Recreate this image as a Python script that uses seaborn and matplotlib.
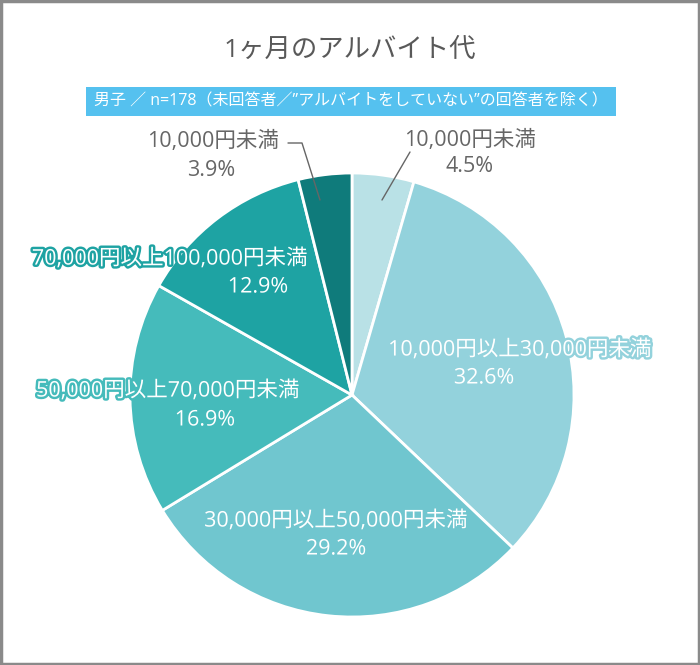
import matplotlib
matplotlib.use("Agg")
import matplotlib.pyplot as plt
import matplotlib.patheffects as pe
from matplotlib.patches import Rectangle
import seaborn as sns

sns.set_theme(style="white")
plt.rcParams['font.family'] = ['Open Sans', 'Noto Sans CJK JP', 'DejaVu Sans']

title = "1ヶ月のアルバイト代"
subtitle = "男子 ／ n=178（未回答者／”アルバイトをしていない”の回答者を除く）"
categories = ["10,000円未満", "10,000円以上30,000円未満", "30,000円以上50,000円未満",
              "50,000円以上70,000円未満", "70,000円以上100,000円未満", "10,000円未満"]
values = [4.5, 32.6, 29.2, 16.9, 12.9, 3.9]
colors = ["#b9e1e6", "#93d2dc", "#70c6cf", "#45bbbb", "#1ea3a3", "#0f7b7b"]

W, H = 700, 665
fig = plt.figure(figsize=(7, 6.65), dpi=100)

cx, cy, r = 352, 395, 222
ax = fig.add_axes([(cx - r) / W, (H - cy - r) / H, 2 * r / W, 2 * r / H])
ax.pie(values, colors=colors, startangle=90, counterclock=False,
       wedgeprops=dict(edgecolor="white", linewidth=2), radius=1.0)
ax.set_xlim(-1, 1)
ax.set_ylim(-1, 1)
ax.set_aspect("equal")
ax.axis("off")

def fx(x):
    return x / W

def fy(y):
    return 1 - y / H

# border
fig.patches.append(Rectangle((0.002, 0.002), 0.996, 0.996, transform=fig.transFigure,
                             fill=False, edgecolor="#8a8a8a", linewidth=2.5))

fig.text(fx(350), fy(50), title, ha="center", va="center", fontsize=19, color="#595959")
fig.patches.append(Rectangle((fx(86), fy(116)), (616 - 86) / W, 29 / H,
                             transform=fig.transFigure, facecolor="#55c1ef", edgecolor="none"))
fig.text(fx(351), fy(101), subtitle, ha="center", va="center", fontsize=11.5, color="white")

gray = "#666666"
fs = 15.5
# outside labels
fig.text(fx(470), fy(140), categories[0], ha="center", va="center", fontsize=fs, color=gray)
fig.text(fx(470), fy(167), f"{values[0]}%", ha="center", va="center", fontsize=fs, color=gray)
fig.add_artist(plt.Line2D([fx(410), fx(382)], [fy(152), fy(200)], color=gray, linewidth=1))

fig.text(fx(213), fy(141), categories[5], ha="center", va="center", fontsize=fs, color=gray)
fig.text(fx(211), fy(170), f"{values[5]}%", ha="center", va="center", fontsize=fs, color=gray)
fig.add_artist(plt.Line2D([fx(288), fx(302), fx(320)], [fy(143), fy(143), fy(200)],
                          color=gray, linewidth=1))

# inside labels
inside = [
    (1, 520, 350, 484, 378),
    (2, 336, 521, 336, 549),
    (3, 168, 391, 205, 420),
    (4, 170, 259, 258, 287),
]
for i, x1, y1, x2, y2 in inside:
    eff = [pe.withStroke(linewidth=3.5, foreground=colors[i])]
    fig.text(fx(x1), fy(y1), categories[i], ha="center", va="center", fontsize=fs,
             color="white", path_effects=eff)
    fig.text(fx(x2), fy(y2), f"{values[i]}%", ha="center", va="center", fontsize=fs,
             color="white", path_effects=eff)

fig.savefig("out.png", dpi=100, facecolor="white")
